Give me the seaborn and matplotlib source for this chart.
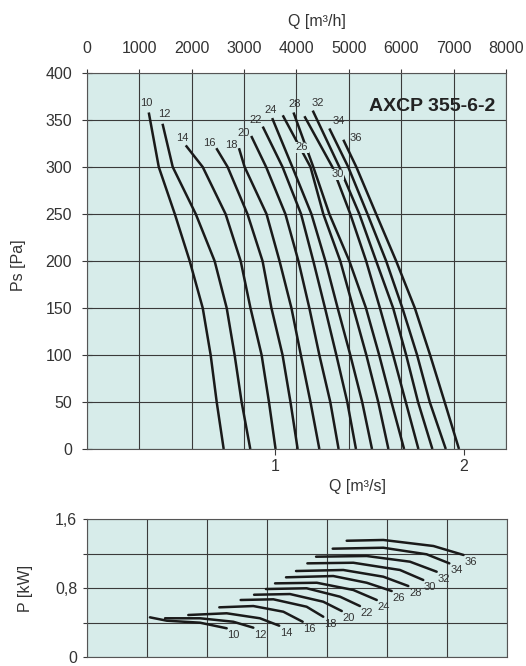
import numpy as np
import pandas as pd
import matplotlib
matplotlib.use("Agg")
import matplotlib.pyplot as plt
import seaborn as sns

# ==============================
# DATA
# ==============================

curve_ids = [10, 12, 14, 16, 18, 20, 22, 24, 26, 28, 30, 32, 34, 36]

# static pressure curves: first point of each curve, then fixed pressure steps
ps_first = [358, 346, 323, 320, 320, 333, 343, 352, 355, 358, 354, 360, 341, 329]
ps_steps = [300, 250, 200, 150, 100, 50, 0]

# Q [m3/s] at ps_first, then at each of ps_steps
q_ps = [
    [0.329, 0.382, 0.467, 0.546, 0.615, 0.657, 0.689, 0.726],
    [0.402, 0.456, 0.578, 0.678, 0.742, 0.784, 0.821, 0.867],
    [0.525, 0.615, 0.736, 0.816, 0.868, 0.927, 0.966, 1.001],
    [0.687, 0.747, 0.852, 0.932, 0.979, 1.038, 1.080, 1.118],
    [0.807, 0.837, 0.953, 1.022, 1.085, 1.135, 1.186, 1.233],
    [0.872, 0.951, 1.053, 1.122, 1.180, 1.233, 1.291, 1.335],
    [0.933, 1.038, 1.136, 1.201, 1.263, 1.323, 1.381, 1.427],
    [0.983, 1.090, 1.191, 1.265, 1.330, 1.397, 1.460, 1.512],
    [1.039, 1.186, 1.254, 1.344, 1.413, 1.482, 1.545, 1.599],
    [1.096, 1.201, 1.286, 1.392, 1.480, 1.550, 1.615, 1.682],
    [1.154, 1.302, 1.397, 1.481, 1.554, 1.624, 1.691, 1.758],
    [1.198, 1.339, 1.445, 1.534, 1.624, 1.693, 1.756, 1.832],
    [1.286, 1.386, 1.488, 1.587, 1.673, 1.751, 1.818, 1.903],
    [1.360, 1.429, 1.534, 1.640, 1.739, 1.820, 1.897, 1.973],
]

# power curves: Q [m3/s] and P [kW]
q_pw = [
    [0.333, 0.422, 0.598, 0.739],
    [0.413, 0.598, 0.774, 0.880],
    [0.536, 0.739, 0.915, 1.017],
    [0.700, 0.880, 1.039, 1.141],
    [0.813, 0.986, 1.162, 1.250],
    [0.884, 1.074, 1.250, 1.348],
    [0.947, 1.162, 1.339, 1.444],
    [0.995, 1.216, 1.409, 1.533],
    [1.053, 1.303, 1.480, 1.612],
    [1.106, 1.356, 1.568, 1.700],
    [1.166, 1.409, 1.656, 1.779],
    [1.212, 1.480, 1.709, 1.850],
    [1.300, 1.568, 1.797, 1.917],
    [1.374, 1.568, 1.833, 1.992],
]
p_pw = [
    [0.460, 0.421, 0.398, 0.333],
    [0.449, 0.449, 0.409, 0.340],
    [0.487, 0.507, 0.449, 0.363],
    [0.576, 0.591, 0.525, 0.409],
    [0.661, 0.669, 0.583, 0.467],
    [0.722, 0.730, 0.641, 0.533],
    [0.788, 0.797, 0.699, 0.591],
    [0.854, 0.861, 0.777, 0.661],
    [0.924, 0.939, 0.861, 0.765],
    [0.997, 1.009, 0.931, 0.823],
    [1.086, 1.093, 1.009, 0.893],
    [1.163, 1.171, 1.105, 0.989],
    [1.256, 1.267, 1.191, 1.086],
    [1.348, 1.357, 1.287, 1.183],
]

qh_ticks = [0, 1000, 2000, 3000, 4000, 5000, 6000, 7000, 8000]
qs_ticks = [1, 2]
ps_ticks = [0, 50, 100, 150, 200, 250, 300, 350, 400]
p_ticks = [0, 0.4, 0.8, 1.2, 1.6]
p_ticklabels = ["0", "", "0,8", "", "1,6"]

# ==============================
# LONG TABLES FOR SEABORN
# ==============================

rows = []
for cid, first, qs in zip(curve_ids, ps_first, q_ps):
    for ps, q in zip([first] + ps_steps, qs):
        rows.append({"curve": cid, "q": q, "ps": ps})
df_ps = pd.DataFrame(rows)

rows = []
for cid, qs, ps in zip(curve_ids, q_pw, p_pw):
    for q, p in zip(qs, ps):
        rows.append({"curve": cid, "q": q, "p": p})
df_pw = pd.DataFrame(rows)

# ==============================
# STYLE
# ==============================

sns.set_theme(style="white")
plt.rcParams["font.family"] = ["Liberation Sans", "DejaVu Sans"]

bg = "#d7ecea"
grid_c = "#3a3a3a"
line_c = "#1a1a1a"
text_c = "#333333"
q_max = 8000 / 3600
fs = 11.5

fig = plt.figure(figsize=(5.26, 6.66), dpi=100)

# ==============================
# PRESSURE CHART
# ==============================

ax1 = fig.add_axes([0.1648, 0.3258, 0.7972, 0.5646])
ax1.set_facecolor(bg)

sns.lineplot(
    data=df_ps, x="q", y="ps", hue="curve",
    palette=[line_c] * len(curve_ids),
    estimator=None, sort=False, legend=False,
    linewidth=1.8, ax=ax1,
)
for ln in ax1.get_lines():
    ln.set_solid_joinstyle("round")
    ln.set_solid_capstyle("butt")

ax1.set_xlim(0, q_max)
ax1.set_ylim(0, 400)
ax1.set_yticks(ps_ticks)
ax1.set_xticks(qs_ticks)
ax1.set_xticklabels([str(t) for t in qs_ticks])
ax1.set_xticks(np.array(qh_ticks) / 3600, minor=True)

ax1.xaxis.grid(True, which="minor", color=grid_c, linewidth=0.8)
ax1.xaxis.grid(False, which="major")
ax1.yaxis.grid(True, which="major", color=grid_c, linewidth=0.8)

ax1.tick_params(axis="y", direction="inout", length=7, width=0.8,
                color=grid_c, labelsize=fs, pad=7, labelcolor=text_c, left=True)
ax1.tick_params(axis="x", which="major", direction="out", length=4, width=0.8,
                color=grid_c, labelsize=fs, pad=3, labelcolor=text_c, bottom=True)
ax1.tick_params(axis="x", which="minor", length=0)

for s in ax1.spines.values():
    s.set_color("#555555")
    s.set_linewidth(0.8)

ax1.set_xlabel("Q [m³/s]", fontsize=fs, color=text_c)
ax1.xaxis.set_label_coords(0.647, -0.08)
ax1.set_ylabel("Ps [Pa]", fontsize=fs, color=text_c)
ax1.yaxis.set_label_coords(-0.145, 0.49)

secax = ax1.secondary_xaxis("top", functions=(lambda q: q * 3600, lambda h: h / 3600))
secax.set_xticks(qh_ticks)
secax.tick_params(direction="out", length=3, width=0.8, color=grid_c,
                  labelsize=fs, pad=9, labelcolor=text_c)
secax.spines["top"].set_visible(False)
ax1.text(0.55, 1.138, "Q [m³/h]", transform=ax1.transAxes,
         ha="center", va="center", fontsize=fs, color=text_c)

ax1.text(0.823, 0.912, "AXCP 355-6-2", transform=ax1.transAxes,
         ha="center", va="center", fontsize=14, fontweight="bold", color="#222222")

# curve numbers near the start of each pressure curve (offsets in pixels)
top_offsets = [(-2, 9), (2, 10), (-3, 7), (-7, 5), (-8, 3), (-8, 3), (-7, 7),
               (-2, 8), (19, -32), (1, 8), (33, -58), (5, 8), (9, 7), (12, 2)]
for cid, first, qs, off in zip(curve_ids, ps_first, q_ps, top_offsets):
    box = None
    if cid in (26, 30):
        box = dict(boxstyle="square,pad=0.05", fc=bg, ec="none")
    ax1.annotate(str(cid), xy=(qs[0], first), xytext=off, textcoords="offset pixels",
                 ha="center", va="center", fontsize=8, color=text_c, bbox=box)

# ==============================
# POWER CHART
# ==============================

ax2 = fig.add_axes([0.1654, 0.0135, 0.7985, 0.2072])
ax2.set_facecolor(bg)

sns.lineplot(
    data=df_pw, x="q", y="p", hue="curve",
    palette=[line_c] * len(curve_ids),
    estimator=None, sort=False, legend=False,
    linewidth=1.8, ax=ax2,
)
for ln in ax2.get_lines():
    ln.set_solid_joinstyle("round")

ax2.set_xlim(0, q_max)
ax2.set_ylim(0, 1.6)
ax2.set_xticks(np.linspace(0, q_max, 8))
ax2.set_xticklabels([])
ax2.set_yticks(p_ticks)
ax2.set_yticklabels(p_ticklabels)
ax2.grid(True, color=grid_c, linewidth=0.8)
ax2.tick_params(axis="x", length=0)
ax2.tick_params(axis="y", direction="out", length=3, width=0.8, color=grid_c,
                labelsize=fs, pad=4, labelcolor=text_c, left=True)
for s in ax2.spines.values():
    s.set_color("#555555")
    s.set_linewidth(0.8)

ax2.set_xlabel("")
ax2.set_ylabel("P [kW]", fontsize=fs, color=text_c)
ax2.yaxis.set_label_coords(-0.129, 0.5)

for cid, qs, ps in zip(curve_ids, q_pw, p_pw):
    ax2.annotate(str(cid), xy=(qs[-1], ps[-1]), xytext=(7, -7), textcoords="offset pixels",
                 ha="center", va="center", fontsize=8, color=text_c)

fig.savefig("out.png", dpi=100)
